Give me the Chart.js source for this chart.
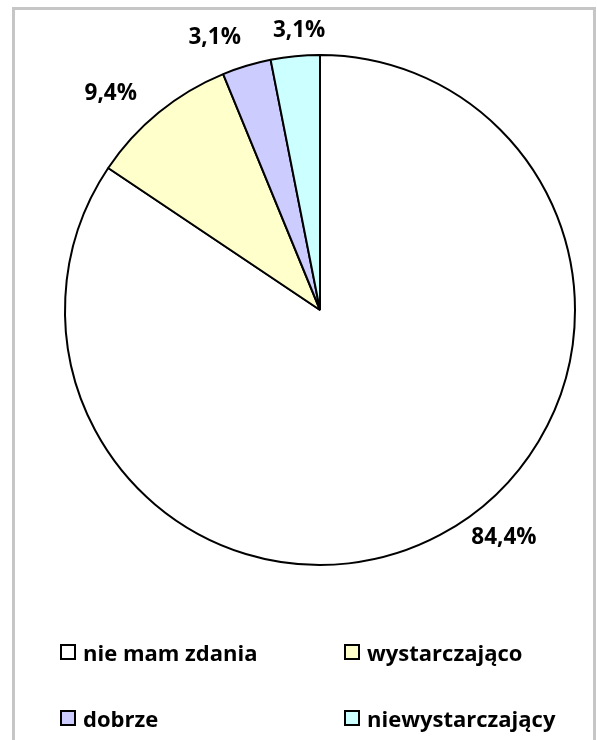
<!DOCTYPE html>
<html>
<head>
<meta charset="utf-8">
<script src="https://cdn.jsdelivr.net/npm/chart.js@4"></script>
<style>
  html, body { margin: 0; padding: 0; background: #fff; }
  body { width: 597px; height: 740px; position: relative; overflow: hidden; font-family: 'Open Sans', sans-serif; }
  .frame { position: absolute; left: 12px; top: 7px; width: 584px; height: 760px; border: 3px solid #c6c6c6; box-sizing: border-box; }
  #pie { position: absolute; left: 0; top: 0; }
  .legend { position: absolute; left: 0; top: 0; }
  .legend-item { position: absolute; display: flex; align-items: center; font-weight: bold; font-size: 22px; color: #000; white-space: nowrap; height: 30px; }
  .legend-box { width: 12px; height: 12px; border: 2px solid #000; margin-right: 7px; box-sizing: content-box; }
</style>
</head>
<body>
<div class="frame"></div>
<canvas id="pie" width="597" height="740"></canvas>
<div class="legend" id="legend"></div>
<script>
const categories = ['nie mam zdania', 'wystarczająco', 'dobrze', 'niewystarczający'];
const percentValues = [84.4, 9.4, 3.1, 3.1];
const valueLabels = ['84,4%', '9,4%', '3,1%', '3,1%'];
const sliceColors = ['#ffffff', '#ffffcc', '#ccccff', '#ccffff'];

// Excel "best fit" puts the labels a bit off the slice middle
const labelNudge = [-10.8, -4.8, -4.4, 1.3];   // degrees
const labelDistance = [38, 46, 37, 25];

const outsideLabels = {
  id: 'outsideLabels',
  afterDatasetsDraw(chart) {
    const ctx = chart.ctx;
    const meta = chart.getDatasetMeta(0);
    ctx.save();
    ctx.font = 'bold 22.5px "Open Sans", sans-serif';
    ctx.fillStyle = '#000';
    ctx.textAlign = 'center';
    ctx.textBaseline = 'middle';
    meta.data.forEach((arc, i) => {
      const mid = (arc.startAngle + arc.endAngle) / 2 + labelNudge[i] * Math.PI / 180;
      const r = arc.outerRadius + labelDistance[i];
      ctx.fillText(valueLabels[i], arc.x + Math.cos(mid) * r, arc.y + Math.sin(mid) * r);
    });
    ctx.restore();
  }
};

new Chart(document.getElementById('pie'), {
  type: 'pie',
  data: {
    labels: categories,
    datasets: [{
      data: percentValues,
      backgroundColor: sliceColors,
      borderColor: '#000',
      borderWidth: 2,
    }],
  },
  options: {
    responsive: false,
    animation: false,
    layout: { padding: { left: 64, right: 21, top: 54, bottom: 174 } },
    plugins: {
      legend: { display: false },
      tooltip: { enabled: false },
    },
  },
  plugins: [outsideLabels],
});

const legendPos = [[60, 652], [344, 652], [60, 718], [344, 718]];
const legend = document.getElementById('legend');
categories.forEach((name, i) => {
  const item = document.createElement('div');
  item.className = 'legend-item';
  item.style.left = legendPos[i][0] + 'px';
  item.style.top = (legendPos[i][1] - 15) + 'px';
  const box = document.createElement('span');
  box.className = 'legend-box';
  box.style.background = sliceColors[i];
  item.appendChild(box);
  item.appendChild(document.createTextNode(name));
  legend.appendChild(item);
});
</script>
</body>
</html>
